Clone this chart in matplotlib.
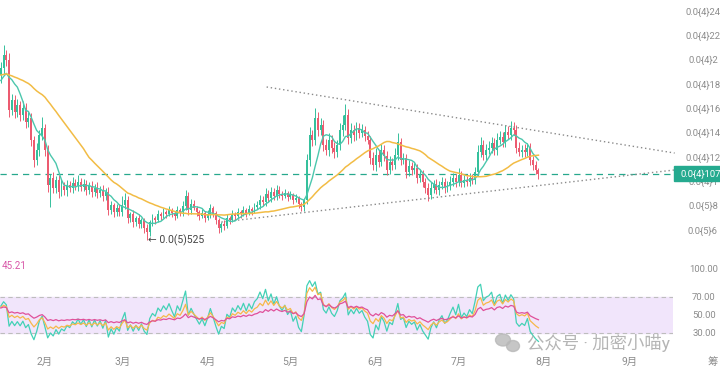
import numpy as np
import pandas as pd
import matplotlib.pyplot as plt
import matplotlib.transforms as mtransforms
from matplotlib.patches import Rectangle, Ellipse

plt.rcParams['font.family'] = ['Roboto', 'Noto Sans CJK SC', 'DejaVu Sans']

# daily closes, price in units of 1e-6 (Jan 16 .. Jul 30)
start_date = pd.Timestamp('2025-01-16')
first_open = 18.8
closes = [
    19.40, 20.47, 20.06, 15.95, 16.77, 15.78, 16.36, 15.54, 16.11, 14.96,
    15.29, 13.48, 11.84, 12.66, 13.89, 14.47, 12.66, 9.79, 10.36, 9.54,
    10.20, 9.21, 9.70, 9.37, 9.79, 9.54, 9.95, 9.70, 10.03, 9.62,
    9.87, 9.37, 9.70, 9.21, 9.54, 9.13, 9.37, 8.88, 9.21, 7.73,
    8.14, 7.56, 7.89, 7.56, 8.14, 8.55, 7.07, 7.40, 6.74, 7.07,
    6.58, 6.91, 6.25, 5.92, 6.74, 7.07, 6.91, 7.40, 7.24, 7.56,
    7.40, 7.73, 7.48, 7.24, 7.73, 7.56, 8.06, 8.88, 7.73, 8.22,
    7.89, 7.56, 7.24, 7.48, 7.07, 7.40, 7.89, 7.48, 6.91, 6.25,
    6.58, 6.42, 7.07, 6.91, 7.40, 7.24, 7.56, 7.40, 7.73, 7.48,
    7.81, 7.65, 7.98, 8.14, 8.55, 8.39, 9.05, 8.72, 9.21, 8.88,
    9.37, 9.05, 8.88, 9.13, 8.80, 8.96, 8.55, 8.72, 8.22, 7.98,
    8.55, 11.84, 13.89, 13.48, 15.29, 14.30, 14.71, 13.07, 12.66, 13.48,
    12.82, 12.50, 13.07, 14.30, 14.71, 15.54, 13.65, 14.30, 13.89, 14.47,
    14.06, 14.30, 13.81, 13.48, 12.00, 11.43, 12.25, 11.67, 12.66, 12.17,
    11.02, 11.67, 11.43, 12.25, 13.32, 11.84, 12.00, 10.85, 11.35, 11.02,
    11.18, 10.36, 10.69, 10.03, 9.54, 8.96, 9.54, 9.87, 9.37, 9.79,
    10.03, 9.54, 9.70, 10.03, 10.36, 10.03, 10.61, 9.95, 10.20, 10.03,
    10.36, 10.20, 10.85, 12.50, 13.07, 12.25, 12.66, 12.82, 13.24, 12.66,
    13.48, 13.73, 13.32, 14.14, 13.89, 14.47, 14.30, 12.82, 12.50, 12.66,
    12.50, 12.82, 11.84, 11.43, 11.02, 10.69,
]
# wick lengths above / below the body
upper_wick = [
    0.5, 0.8, 0.4, 0.6, 0.5, 0.4, 0.5, 0.3, 0.6, 0.4,
    0.5, 0.4, 0.3, 0.6, 0.4, 0.9, 0.3, 0.4, 0.3, 0.5,
    0.3, 0.4, 0.6, 0.3, 0.4, 0.3, 0.5, 0.3, 0.6, 0.3,
    0.4, 0.3, 0.3, 0.4, 0.3, 0.5, 0.3, 0.4, 0.3, 0.4,
    0.3, 0.2, 0.3, 0.3, 0.7, 0.6, 0.3, 0.2, 0.3, 0.2,
    0.3, 0.2, 0.2, 0.3, 0.2, 0.3, 0.2, 0.3, 0.2, 0.3,
    0.2, 0.3, 0.2, 0.2, 0.3, 0.2, 0.4, 0.5, 0.3, 0.4,
    0.3, 0.2, 0.2, 0.3, 0.2, 0.3, 0.3, 0.2, 0.2, 0.2,
    0.2, 0.3, 0.3, 0.2, 0.3, 0.2, 0.3, 0.2, 0.3, 0.2,
    0.3, 0.2, 0.3, 0.3, 0.4, 0.3, 0.5, 0.3, 0.4, 0.3,
    0.4, 0.3, 0.2, 0.3, 0.2, 0.3, 0.2, 0.3, 0.2, 0.2,
    0.2, 0.5, 0.7, 0.4, 0.8, 0.5, 0.6, 0.4, 0.5, 0.6,
    0.4, 0.5, 0.4, 0.6, 0.8, 0.9, 0.5, 0.6, 0.4, 0.5,
    0.4, 0.5, 0.3, 0.4, 0.3, 0.5, 0.6, 0.4, 0.5, 0.4,
    0.4, 0.5, 0.3, 0.6, 0.7, 0.3, 0.4, 0.3, 0.5, 0.3,
    0.4, 0.3, 0.4, 0.3, 0.3, 0.4, 0.5, 0.3, 0.4, 0.3,
    0.4, 0.3, 0.4, 0.5, 0.4, 0.3, 0.6, 0.3, 0.4, 0.3,
    0.4, 0.3, 0.4, 0.6, 0.7, 0.4, 0.5, 0.6, 0.5, 0.4,
    0.6, 0.5, 0.4, 0.6, 0.5, 0.6, 0.5, 0.4, 0.5, 0.4,
    0.5, 0.4, 0.4, 0.3, 0.3, 0.2,
]
lower_wick = [
    0.6, 0.5, 0.5, 0.6, 0.4, 0.5, 0.4, 0.5, 0.4, 0.5,
    0.4, 0.5, 0.6, 0.4, 0.5, 0.4, 0.5, 0.6, 1.8, 0.4,
    0.4, 0.5, 0.3, 0.4, 0.5, 0.3, 0.4, 0.3, 0.4, 0.3,
    0.3, 0.4, 0.3, 0.4, 0.3, 0.4, 0.3, 0.4, 0.3, 0.4,
    0.3, 0.4, 0.3, 0.3, 0.3, 0.3, 0.4, 0.3, 0.4, 0.3,
    0.3, 0.3, 0.4, 0.67, 0.3, 0.3, 0.3, 0.2, 0.3, 0.2,
    0.3, 0.2, 0.3, 0.3, 0.2, 0.3, 0.3, 0.3, 0.4, 0.3,
    0.2, 0.3, 0.3, 0.2, 0.3, 0.2, 0.3, 0.3, 0.3, 0.4,
    0.3, 0.3, 0.2, 0.3, 0.2, 0.3, 0.2, 0.3, 0.2, 0.3,
    0.2, 0.3, 0.2, 0.2, 0.3, 0.3, 0.3, 0.3, 0.3, 0.3,
    0.3, 0.3, 0.3, 0.2, 0.3, 0.2, 0.3, 0.2, 0.3, 0.3,
    0.3, 0.3, 0.5, 0.5, 0.4, 0.5, 0.4, 0.5, 0.4, 0.5,
    0.4, 0.5, 0.4, 0.4, 0.5, 0.4, 0.5, 0.4, 0.5, 0.4,
    0.4, 0.3, 0.4, 0.3, 0.5, 0.4, 0.5, 0.4, 0.3, 0.4,
    0.4, 0.3, 0.4, 0.3, 0.4, 0.4, 0.3, 0.5, 0.3, 0.4,
    0.3, 0.4, 0.3, 0.4, 0.4, 0.5, 0.3, 0.4, 0.3, 0.4,
    0.3, 0.4, 0.3, 0.3, 0.3, 0.4, 0.3, 0.3, 0.3, 0.3,
    0.3, 0.3, 0.3, 0.3, 0.4, 0.4, 0.4, 0.3, 0.4, 0.4,
    0.4, 0.3, 0.4, 0.4, 0.3, 0.4, 0.4, 0.4, 0.3, 0.4,
    0.4, 0.3, 0.4, 0.4, 0.3, 0.4,
]

# moving-average levels carried in from before the first visible day
ma_short_start = 18.2
ma_long_start = 18.8

last_price = 10.7
low_label = '← 0.0(5)525'
low_price = 5.25
price_ticks = [24, 22, 20, 18, 16, 14, 12, 10, 8, 6]
price_labels = ['0.0{4}24', '0.0{4}22', '0.0{4}2', '0.0{4}18', '0.0{4}16',
                '0.0{4}14', '0.0{4}12', '0.0{4}1', '0.0{5}8', '0.0{5}6']
rsi_ticks = [100, 70, 50, 30]
rsi_labels = ['100.00', '70.00', '50.00', '30.00']
rsi_last_label = '45.21'
# average gain / loss carried in from before the first visible day
rsi_seed_gain = 1.0
rsi_seed_loss = 0.75
months = ['2月', '3月', '4月', '5月', '6月', '7月', '8月', '9月']
month_dates = pd.date_range('2025-02-01', periods=8, freq='MS')

# triangle (day index, price)
tri_upper_x = [96.4, 244.4]
tri_upper_y = [17.84, 12.41]
tri_lower_x = [80.0, 244.4]
tri_lower_y = [6.74, 11.02]

GREEN = '#35c09c'
RED = '#ec5b70'

df = pd.DataFrame({'close': closes})
df['open'] = df['close'].shift(1).fillna(first_open)
df['high'] = df[['open', 'close']].max(axis=1) + np.array(upper_wick)
df['low'] = df[['open', 'close']].min(axis=1) - np.array(lower_wick)
x = np.arange(len(df))


def sma(values, n, start_level):
    s = pd.Series([start_level] * (n - 1) + list(values))
    return s.rolling(n).mean().iloc[n - 1:].to_numpy()


ma_short = sma(closes, 7, ma_short_start)
ma_long = sma(closes, 30, ma_long_start)


def rsi(close, prev0, n):
    # Wilder smoothing, started from the carried-in averages
    d = np.diff(np.concatenate([[prev0], close]))
    g, l = rsi_seed_gain, rsi_seed_loss
    out = []
    for v in d:
        g = (g * (n - 1) + max(v, 0)) / n
        l = (l * (n - 1) + max(-v, 0)) / n
        out.append(100 - 100 / (1 + g / l))
    return np.array(out)


fig = plt.figure(figsize=(7.2, 3.7), dpi=100)
ax = fig.add_axes([0, 1 - 255 / 370, 673 / 720, 255 / 370])
rax = fig.add_axes([0, 1 - 350 / 370, 673 / 720, 92 / 370])
for a in (ax, rax):
    for sp in a.spines.values():
        sp.set_visible(False)
    a.set_xlim(-0.3, 243.8)

# candles
cols = np.where(df['close'] >= df['open'], GREEN, RED)
ax.vlines(x, df['low'], df['high'], color=cols, lw=0.7, zorder=2)
ax.bar(x, df['close'] - df['open'], bottom=df['open'], width=0.7,
       color=cols, zorder=3)
ax.plot(x, ma_short, color='#4cc7ad', lw=1.0, zorder=4)
ax.plot(x, ma_long, color='#f2bc45', lw=1.1, zorder=4)

ax.axhline(last_price, color='#27a88d', lw=0.9, ls=(0, (5, 4)), zorder=1)
ax.plot(tri_upper_x, tri_upper_y, color='#8a8a8a', lw=1.0, ls=(0, (1, 2)), clip_on=False)
ax.plot(tri_lower_x, tri_lower_y, color='#8a8a8a', lw=1.0, ls=(0, (1, 2)), clip_on=False)

ax.text(53.5, low_price, low_label, fontsize=7.5, color='#444444', va='center',
        family=['Roboto', 'DejaVu Sans'])

ax.set_ylim(4.03, 24.99)
ax.set_xticks([])
ax.set_yticks([])

bt = mtransforms.blended_transform_factory(ax.transAxes, ax.transData)
for p, lab in zip(price_ticks, price_labels):
    ax.text(703 / 673, p, lab, transform=bt, ha='center', va='center',
            fontsize=6.8, color='#8c8c8c', clip_on=False)
ax.add_patch(Rectangle((674 / 673, last_price - 0.62), 0.08, 1.24, transform=bt,
                       color='#25aa8f', clip_on=False, zorder=5))
ax.text(701 / 673, last_price, '0.0{4}107', transform=bt, ha='center', va='center',
        fontsize=6.8, color='white', clip_on=False, zorder=6)

# RSI panel
c = np.array(closes)
rax.axhspan(30, 70, color='#f1e5fb', zorder=0)
rax.axhline(70, color='#bdbdbd', lw=0.8, ls=(0, (4, 3)))
rax.axhline(30, color='#bdbdbd', lw=0.8, ls=(0, (4, 3)))
rax.plot(x, rsi(c, first_open, 6), color='#43d1b6', lw=0.9)
rax.plot(x, rsi(c, first_open, 12), color='#f6b84a', lw=0.9)
rax.plot(x, rsi(c, first_open, 24), color='#e0509a', lw=0.9)
rax.set_ylim(100 - 80 / 0.9, 100 + 12 / 0.9)
rax.set_yticks([])
rbt = mtransforms.blended_transform_factory(rax.transAxes, rax.transData)
for v, lab in zip(rsi_ticks, rsi_labels):
    rax.text(704 / 673, v, lab, transform=rbt, ha='center', va='center',
             fontsize=6.8, color='#8c8c8c', clip_on=False)

month_pos = [(d - start_date).days for d in month_dates]
rax.set_xticks(month_pos)
rax.set_xticklabels(months, fontsize=7.5, color='#8c8c8c')
rax.tick_params(axis='x', length=0, pad=5)

fig.text(2 / 720, 1 - 266 / 370, rsi_last_label, fontsize=7, color='#d857a8', va='center')
fig.text(708 / 720, 1 - 362 / 370, '筹', fontsize=7.5, color='#8c8c8c', va='center')

# watermark
fig.add_artist(Ellipse((503 / 720, 1 - 340 / 370), 15 / 720, 12 / 370, color='#b8b8b8', alpha=0.8))
fig.add_artist(Ellipse((513 / 720, 1 - 346 / 370), 13 / 720, 11 / 370, color='#b8b8b8', alpha=0.8))
fig.text(527 / 720, 1 - 343 / 370, '公众号 · 加密小喵y', fontsize=12.5,
         color='#a8a8a8', alpha=0.85, va='center')

fig.savefig('out.png', dpi=100)
